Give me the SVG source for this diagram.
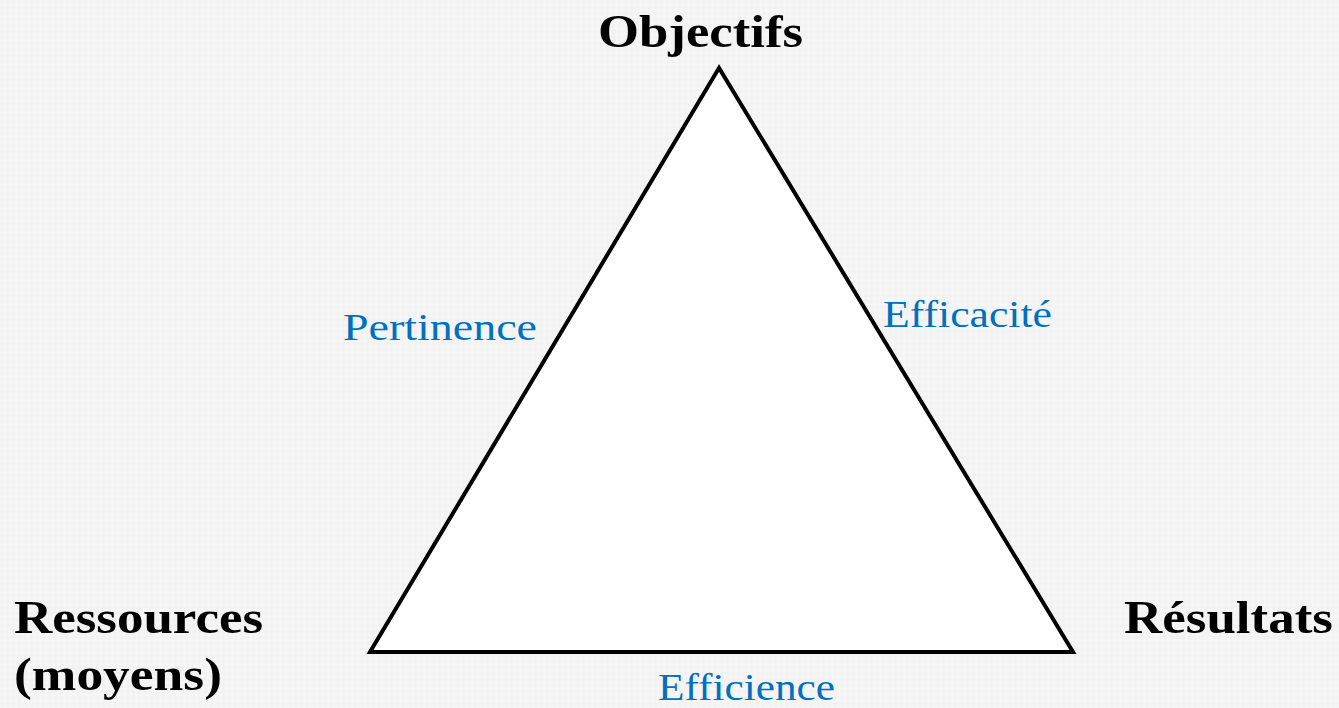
<svg xmlns="http://www.w3.org/2000/svg" width="1339" height="708" viewBox="0 0 1339 708">
<defs>
<pattern id="tex" width="6" height="6" patternUnits="userSpaceOnUse">
<rect width="6" height="6" fill="#f4f4f4"/>
<rect x="0" y="0" width="3" height="3" fill="#f2f2f2"/>
<rect x="3" y="3" width="3" height="3" fill="#f6f6f6"/>
</pattern>
<style>
.vtx{font-family:"Liberation Serif","DejaVu Serif",serif;font-weight:bold;font-size:46px;fill:#000}
.edge{font-family:"Liberation Serif","DejaVu Serif",serif;font-size:37px;fill:#0070C0}
</style>
</defs>
<rect width="1339" height="708" fill="url(#tex)"/>
<g id="connectors">
<polygon points="719,68 370,652 1073,652" fill="#ffffff" stroke="#000" stroke-width="4" stroke-linejoin="miter"/>
</g>
<g id="objectifs"><text class="vtx" x="598" y="47" textLength="205" lengthAdjust="spacingAndGlyphs">Objectifs</text></g>
<g id="ressources"><text class="vtx" x="14" y="633" textLength="249" lengthAdjust="spacingAndGlyphs">Ressources</text>
<text class="vtx" x="14" y="690" textLength="208" lengthAdjust="spacingAndGlyphs">(moyens)</text></g>
<g id="resultats"><text class="vtx" x="1124" y="633" textLength="209" lengthAdjust="spacingAndGlyphs">Résultats</text></g>
<g id="pertinence"><text class="edge" x="343" y="340" textLength="194" lengthAdjust="spacingAndGlyphs">Pertinence</text></g>
<g id="efficacite"><text class="edge" x="883" y="327" textLength="169" lengthAdjust="spacingAndGlyphs">Efficacité</text></g>
<g id="efficience"><text class="edge" x="658" y="700" textLength="177" lengthAdjust="spacingAndGlyphs">Efficience</text></g>
</svg>
